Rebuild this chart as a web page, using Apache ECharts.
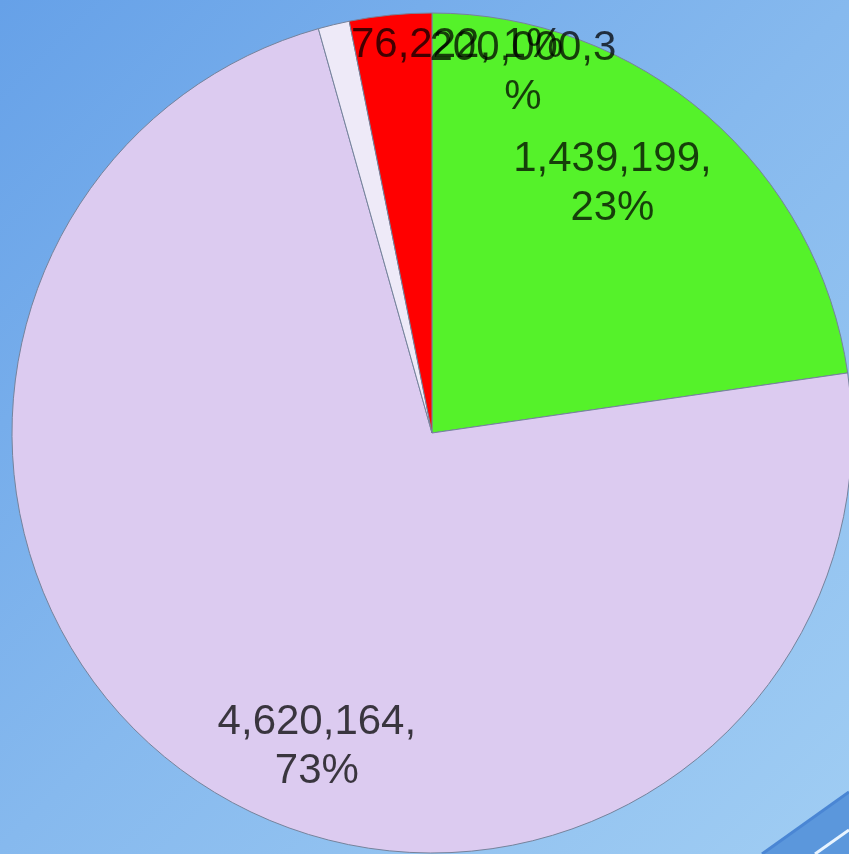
<!DOCTYPE html>
<html>
<head>
<meta charset="utf-8">
<style>
html,body{margin:0;padding:0;width:849px;height:854px;overflow:hidden;}
#c{width:849px;height:854px;}
</style>
<script src="https://cdn.jsdelivr.net/npm/echarts@6/dist/echarts.min.js"></script>
</head>
<body>
<div id="c"></div>
<script>
// Data (clockwise from 12 o'clock)
const categories = ['A', 'B', 'C', 'D'];
const values = [1439199, 4620164, 76222, 200000];
const colors = ['#55f22a', '#dccbf0', '#eeeaf8', '#ff0000'];

const total = values.reduce((a, b) => a + b, 0);
const fmt = v => v.toLocaleString('en-US');
const pct = v => Math.round(v / total * 100);

// label styling per slice (offset from the slice's inside anchor, wrapping style)
const labelOffsets = [[41, -88], [1, 135], [75, -180], [112, -148]];
const labelStyles = ['wrap', 'wrap', 'line', 'tail'];

function labelText(i) {
  const v = values[i], p = pct(v);
  if (labelStyles[i] === 'line') return fmt(v) + ', ' + p + '%';
  if (labelStyles[i] === 'tail') return fmt(v) + ',' + p + '\n%';
  return fmt(v) + ',\n' + p + '%';
}

const chart = echarts.init(document.getElementById('c'));
chart.setOption({
  backgroundColor: new echarts.graphic.LinearGradient(0, 0, 1, 1, [
    {offset: 0, color: '#66a1e8'},
    {offset: 0.5, color: '#86b9ee'},
    {offset: 1, color: '#a0cdf3'}
  ]),
  animation: false,
  graphic: [
    {type: 'polygon', shape: {points: [[849, 792], [762, 854], [849, 854]]}, style: {fill: '#5b97dc'}, z: -1},
    {type: 'polyline', shape: {points: [[849, 792], [762, 854]]}, style: {stroke: '#4a86d4', lineWidth: 3}, z: -1},
    {type: 'polyline', shape: {points: [[849, 830], [815, 854]]}, style: {stroke: '#e8f4ff', lineWidth: 3}, z: -1}
  ],
  series: [{
    type: 'pie',
    center: [432, 433],
    radius: [0, 420],
    startAngle: 90,
    clockwise: true,
    avoidLabelOverlap: false,
    silent: true,
    labelLayout: {hideOverlap: false},
    itemStyle: {borderColor: '#76839c', borderWidth: 1},
    label: {
      show: true,
      position: 'inside',
      fontFamily: 'Liberation Sans, Arial, sans-serif',
      fontSize: 42,
      lineHeight: 49,
      color: 'rgba(0,0,0,0.74)',
      align: 'center'
    },
    labelLine: {show: false},
    data: values.map((v, i) => ({
      name: categories[i],
      value: v,
      itemStyle: {color: colors[i]},
      label: {formatter: labelText(i), offset: labelOffsets[i]}
    }))
  }]
});
</script>
</body>
</html>
